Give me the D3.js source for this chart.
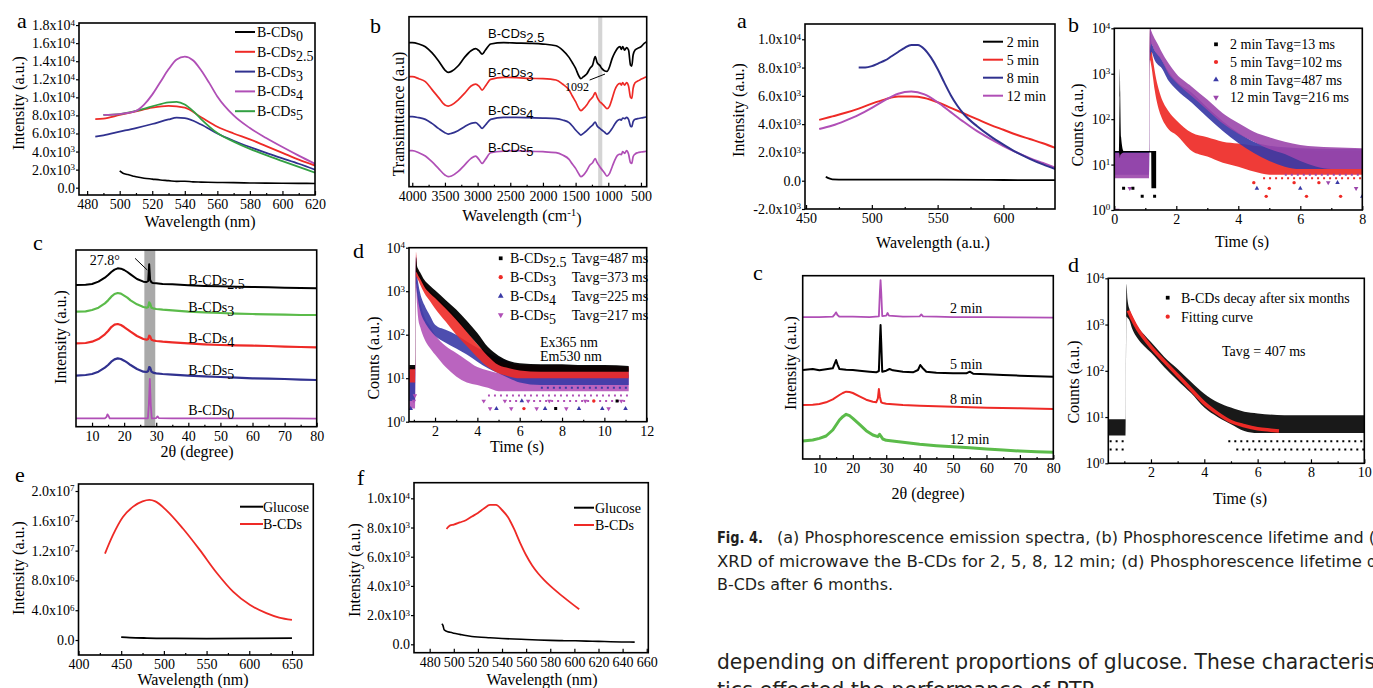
<!DOCTYPE html>
<html>
<head>
<meta charset="utf-8">
<style>
  body { margin: 0; background: #fff; }
  svg { display: block; font-family: "Liberation Serif", "Times New Roman", serif; }
  .tick text { font-family: "Liberation Serif", serif; font-size: 14px; fill: #000; }
  .tick line { stroke: #000; stroke-width: 1.2px; }
  .frame { fill: none; stroke: #000; stroke-width: 1.6px; }
  .title { font-size: 16px; text-anchor: middle; }
  .tag { font-size: 22px; }
  .lab { font-size: 14px; }
  .sans { font-family: "Liberation Sans", Arial, sans-serif; font-size: 13px; }
  .cap { font-family: "Liberation Sans Narrow", "DejaVu Sans Condensed", "Liberation Sans", sans-serif; font-stretch: condensed; fill: #231f20; }
</style>
</head>
<body>
<script src="https://cdn.jsdelivr.net/npm/d3@7"></script>
<script>
// ---------- colours ----------
var RED = "#ee2a26", BLUE = "#30318f", PURPLE = "#b04fb6", GREEN = "#33a043", LGREEN = "#5bbb4a";
var DBLUE = "#3a3aa6", DPURPLE = "#9b46ab";

// ---------- left a : phosphorescence spectra ----------
var aWl0 = [500, 502, 505, 508, 510, 515, 520, 525, 530, 535, 540, 545, 550, 560, 570, 580, 590, 600, 610, 620];
var aI0 = [1850, 1600, 1450, 1300, 1200, 1050, 950, 850, 780, 700, 720, 640, 620, 580, 560, 520, 500, 490, 480, 470];
var aWl25 = [485, 490, 500, 510, 520, 530, 540, 550, 560, 570, 580, 590, 600, 610, 620];
var aI25 = [7600, 7650, 8050, 8450, 8850, 9050, 8850, 7800, 6750, 6000, 5350, 4600, 3850, 3100, 2450];
var aWl3 = [485, 490, 500, 510, 520, 530, 535, 540, 550, 560, 570, 580, 590, 600, 610, 620];
var aI3 = [5650, 5800, 6200, 6600, 7050, 7550, 7750, 7700, 7000, 6000, 5200, 4500, 3850, 3250, 2650, 2000];
var aWl4 = [490, 500, 510, 515, 520, 525, 530, 535, 540, 545, 550, 555, 560, 570, 580, 590, 600, 610, 620];
var aI4 = [8050, 8150, 8500, 9200, 10300, 11700, 13100, 14200, 14500, 14100, 13000, 11600, 10100, 8000, 6600, 5500, 4500, 3550, 2650];
var aWl5 = [490, 500, 510, 520, 530, 535, 540, 545, 550, 560, 570, 580, 590, 600, 610, 620];
var aI5 = [8050, 8150, 8500, 9000, 9450, 9500, 9200, 8500, 7600, 6050, 5100, 4300, 3600, 2950, 2300, 1650];
var aXTicks = [480, 500, 520, 540, 560, 580, 600, 620];
var aXMinor = [490, 510, 530, 550, 570, 590, 610];
var aYTicks = [0, 2000, 4000, 6000, 8000, 10000, 12000, 14000, 16000, 18000];

// ---------- left b : FTIR ----------
var bWn = [4050, 4000, 3900, 3800, 3700, 3600, 3500, 3450, 3400, 3300, 3200, 3100, 3030, 2980, 2930, 2880, 2800, 2600, 2400, 2200,
  2000, 1800, 1700, 1600, 1550, 1500, 1450, 1420, 1380, 1330, 1280, 1240, 1200, 1170, 1130, 1100, 1060, 1020, 980, 940,
  900, 860, 820, 800, 780, 750, 720, 690, 660, 640, 620, 590, 550, 500, 450, 412];
var bT25 = [86.4, 86.4, 85.6, 84, 80.4, 75.6, 70, 68.6, 69.2, 72.4, 77.6, 81.6, 82.8, 81.6, 79.6, 82, 85.6, 86.4, 86.2, 86,
  85.6, 84.6, 82, 77.6, 74.4, 71, 66.4, 64.8, 66, 67.6, 71, 73, 78, 74.4, 72.8, 71, 69.6, 69.2, 72, 77,
  80.4, 83, 84, 82.4, 84, 82, 83.4, 82, 73, 72.4, 79, 82, 83, 84, 86, 87];
var bT3 = [66, 66, 64.8, 63, 58.4, 53.6, 49, 48.4, 49, 52, 56, 60.4, 61.6, 60.4, 58, 60.4, 64.4, 65.6, 65.4, 65,
  64.8, 64, 61.6, 58, 54.4, 51, 47, 45.6, 46.8, 49, 52, 53.6, 56.4, 53.6, 51, 50, 48.4, 46.8, 48.4, 53,
  58, 61, 62, 61, 62.4, 61, 62.4, 60.4, 53.6, 53, 59, 62.4, 63.4, 64.4, 65.4, 66];
var bT4 = [42, 42, 41.4, 40.4, 38, 35, 32.4, 31.6, 32, 33.6, 36, 38, 38.4, 37, 35, 37, 40.4, 41.6, 41.6, 41.4,
  41.2, 40.8, 40, 38.4, 36.4, 34, 32, 31, 32, 33.6, 35.6, 37, 38.8, 36.4, 35, 34, 32.8, 31.6, 32.8, 35,
  37.6, 39.6, 40.4, 40, 41.2, 40.8, 41.6, 40.4, 36.4, 36, 39, 40.4, 40.8, 41.2, 41.6, 42];
var bT5 = [21.6, 21.6, 20.4, 18.4, 15, 11, 7, 6, 6.4, 9, 13, 17, 18.4, 16.4, 14, 16.4, 20.4, 21.4, 21.6, 21.2,
  21, 20.4, 19, 16.4, 13.6, 11, 7.6, 6, 7, 9.6, 13, 14.4, 16.8, 14.4, 12, 10.4, 8.4, 6.4, 8, 12,
  16, 18.8, 19.6, 19.2, 21, 20, 21.6, 19.6, 14.4, 14, 18, 19.6, 20.4, 20.8, 21, 21.4];
var bXTicks = [4000, 3500, 3000, 2500, 2000, 1500, 1000, 500];
var bXMinor = [3750, 3250, 2750, 2250, 1750, 1250, 750];
var bBand = [1155, 1092];

// ---------- left c : XRD ----------
var cX = [5, 8, 10, 12, 14, 15, 16, 17, 18, 19, 20, 21, 22, 24, 26, 27, 27.5, 27.8, 28.1, 28.5, 29, 30, 32, 35, 40, 45, 50, 55, 60, 65, 70, 75, 80];
var cI25 = [85, 85.2, 85.6, 87, 89.4, 91, 92.8, 94.2, 95, 94.8, 94, 92.8, 91.4, 88.6, 87, 86.8, 87.4, 97.4, 88, 86.6, 86.2, 86, 85.6, 85.4, 84.8, 84.4, 84.2, 84, 83.8, 83.6, 83.4, 83.2, 83];
var cI3 = [69, 69.2, 70, 71.4, 74, 75.8, 78, 79.6, 80.2, 79.8, 78.6, 77.4, 75.8, 73.4, 71.8, 71.4, 71.8, 74.6, 73.8, 71.4, 71, 70.6, 70.2, 69.8, 69, 68.6, 68.2, 67.8, 67.6, 67.4, 67.2, 67, 67];
var cI4 = [50, 50.2, 51, 52.6, 55.4, 57.4, 59.8, 61.2, 61.6, 61, 59.8, 58.4, 57, 54.4, 52.6, 52.2, 52.6, 54.6, 54.2, 52.2, 51.8, 51.4, 51, 50.6, 50, 49.4, 49, 48.8, 48.6, 48.4, 48, 47.8, 47.6];
var cI5 = [30.6, 31, 31.6, 33, 35.4, 37, 39, 40.4, 41, 40.6, 39.6, 38.4, 37, 34.6, 33, 32.8, 33.4, 35.8, 35.4, 33, 32.4, 32, 31.6, 31.2, 30.6, 30.2, 29.8, 29.4, 29, 28.8, 28.6, 28.2, 28];
var cX0 = [5, 14, 14.5, 14.8, 15.1, 15.5, 20, 25, 27.4, 27.7, 28, 28.3, 28.6, 30, 30.4, 30.8, 35, 40, 50, 60, 70, 80];
var cI0 = [5, 5, 5.8, 7.4, 6.6, 5, 5, 5, 5, 13, 28.6, 13, 5, 5.2, 6.2, 5.2, 5, 5, 5, 5, 5, 4.8];
var cBand = [26.3, 29.7];
var xrdTicks = [10, 20, 30, 40, 50, 60, 70, 80];
var xrdMinor = [15, 25, 35, 45, 55, 65, 75];

// ---------- left d : decay (upper / lower edge of each dot cloud) ----------
var dT = [0.78, 1.07, 1.1, 1.15, 1.2, 1.3, 1.5, 1.75, 2, 2.5, 3, 3.5, 4, 4.5, 5, 5.5, 6, 7, 8, 9, 10, 11.15];
var dHi25 = [20, 20, 6000, 3800, 3300, 2700, 1800, 1350, 1050, 630, 380, 210, 110, 52, 33, 25, 22, 21, 21, 20, 20, 19];
var dLo25 = [16, 16, 2800, 2600, 2300, 1900, 1250, 900, 700, 400, 220, 115, 60, 32, 20, 17, 15, 14, 14, 14, 14, 14];
var dHi3 = [18, 18, 8000, 3500, 3000, 2400, 1500, 1050, 800, 450, 250, 120, 60, 35, 25, 22, 20, 20, 20, 19, 19, 18];
var dLo3 = [8, 8, 2200, 2000, 1800, 1400, 900, 600, 400, 200, 100, 55, 30, 18, 13, 11, 10, 10, 10, 10, 10, 10];
var dHi4 = [16, 16, 6000, 2500, 1600, 900, 480, 280, 170, 130, 100, 70, 50, 38, 30, 24, 19, 18, 17, 17, 17, 17];
var dLo4 = [3, 3, 1500, 900, 600, 350, 200, 130, 95, 65, 48, 35, 24, 17, 13, 10, 8, 7, 7, 7, 7, 7];
var dHi5 = [14, 14, 7000, 2000, 1000, 550, 260, 160, 100, 55, 38, 26, 18, 15, 13, 12, 12, 12, 12, 12, 12, 12];
var dLo5 = [2, 2, 1200, 500, 250, 150, 80, 50, 35, 18, 11, 8, 7, 6, 5, 5, 5, 5, 5, 5, 5, 5];
var dStray5 = [[4.3, 3], [4.6, 2], [5.3, 3], [5.6, 2], [6.4, 3], [6.8, 2], [7.4, 3], [8.2, 2], [9.1, 3], [10.2, 2], [10.8, 3], [1.0, 3], [1.05, 4]];
var dStray4 = [[4.9, 2], [7.2, 2], [8.8, 2], [9.9, 2], [11.0, 2], [0.85, 2], [6.1, 3]];
var dStray3 = [[6.2, 2], [9.5, 3]];
var dStray25 = [[7.7, 2], [10.6, 3]];
var dXTicks = [2, 4, 6, 8, 10, 12];
var dXMinor = [1, 3, 5, 7, 9, 11];
var logTicks = [1, 10, 100, 1000, 10000];

// ---------- left e / f : glucose vs B-CDs ----------
var eWlG = [450, 460, 480, 500, 550, 600, 650];
var eIG = [400000, 330000, 260000, 220000, 200000, 210000, 250000];
var eWlB = [431, 440, 452, 464, 475, 483, 490, 503, 522, 542, 562, 581, 601, 620, 635, 650];
var eIB = [11.6e6, 14.0e6, 16.5e6, 17.9e6, 18.6e6, 18.8e6, 18.6e6, 17.4e6, 15.0e6, 12.1e6, 9.0e6, 6.5e6, 4.7e6, 3.6e6, 3.0e6, 2.7e6];
var eXTicks = [400, 450, 500, 550, 600, 650];
var eXMinor = [425, 475, 525, 575, 625];
var eYTicks = [0, 4e6, 8e6, 1.2e7, 1.6e7, 2e7];

var fWlG = [490, 491, 492, 494, 497, 500, 505, 510, 515, 520, 530, 540, 550, 560, 570, 580, 590, 600, 610, 620, 630, 640, 650];
var fIG = [1400, 1300, 1000, 900, 820, 760, 680, 600, 540, 500, 450, 400, 360, 330, 300, 270, 250, 240, 220, 200, 180, 160, 150];
var fWlB = [494, 495, 497, 500, 505, 510, 515, 520, 525, 530, 535, 540, 545, 550, 555, 560, 565, 570, 575, 580, 590, 600, 604];
var fIB = [7900, 8000, 8150, 8200, 8350, 8500, 8750, 9000, 9300, 9550, 9550, 9200, 8700, 7900, 6950, 6100, 5400, 4850, 4400, 4000, 3300, 2650, 2400];
var fXTicks = [480, 500, 520, 540, 560, 580, 600, 620, 640, 660];
var fYTicks = [0, 2000, 4000, 6000, 8000, 10000];

// ---------- right a : spectra vs microwave time ----------
var raWl2 = [465, 467, 470, 480, 500, 550, 600, 640];
var raI2 = [280, 180, 100, 80, 80, 70, 50, 40];
var raWl5 = [460, 470, 480, 490, 500, 510, 520, 530, 540, 550, 560, 570, 580, 590, 600, 610, 620, 630, 640];
var raI5 = [4300, 4550, 4800, 5100, 5450, 5750, 5950, 5950, 5850, 5550, 5150, 4750, 4350, 3950, 3600, 3250, 2950, 2650, 2300];
var raWl8 = [490, 495, 500, 505, 510, 515, 520, 525, 530, 535, 540, 545, 550, 555, 560, 565, 570, 580, 590, 600, 610, 620, 630, 640];
var raI8 = [8000, 8000, 8100, 8300, 8500, 8800, 9100, 9400, 9600, 9600, 9300, 8700, 7900, 6950, 6050, 5300, 4700, 3850, 3150, 2550, 2000, 1550, 1150, 800];
var raWl12 = [460, 470, 480, 490, 500, 510, 520, 530, 540, 550, 560, 570, 580, 590, 600, 610, 620, 630, 640];
var raI12 = [3650, 3900, 4250, 4650, 5150, 5700, 6150, 6300, 6100, 5550, 4850, 4150, 3500, 2950, 2450, 2000, 1600, 1250, 900];
var raXTicks = [450, 500, 550, 600];
var raXMinor = [475, 525, 575, 625];
var raYTicks = [-2000, 0, 2000, 4000, 6000, 8000, 10000];

// ---------- right b : decay vs microwave time ----------
var rbTk = [0, 0.15, 0.17, 0.18, 0.19, 0.22, 0.3, 1.19, 1.2, 1.35];
var rbHi2 = [20, 20, 300, 1300, 400, 40, 20, 20, 20, 20];
var rbLo2 = [18.5, 18.5, 16, 14, 16, 17, 18.5, 18.5, 3, 3];
var rbT = [0, 1.12, 1.15, 1.2, 1.25, 1.3, 1.4, 1.5, 1.75, 2, 2.5, 3, 3.5, 4, 4.5, 5, 5.5, 6, 7, 8];
var rbHi5 = [20, 20, 10000, 3500, 2000, 1200, 550, 320, 150, 95, 50, 40, 32, 29, 26, 24, 22, 21, 20, 20];
var rbLo5 = [14, 14, 2000, 1400, 800, 450, 200, 120, 60, 45, 20, 15, 11, 9, 7, 6, 6, 6, 6, 6];
var rbHi8 = [20, 20, 10000, 4800, 4000, 3300, 2700, 2200, 1100, 680, 380, 180, 90, 50, 32, 26, 24, 23, 22, 22];
var rbLo8 = [6, 6, 2000, 3000, 2500, 2000, 1600, 1400, 700, 450, 230, 110, 55, 30, 18, 12, 9, 8, 8, 8];
var rbHi12 = [18, 18, 10000, 8500, 7000, 6000, 4500, 3300, 1700, 1000, 520, 270, 135, 82, 53, 40, 32, 27, 24, 23];
var rbLo12 = [5, 5, 3000, 4500, 3800, 3200, 2600, 2100, 1000, 640, 320, 160, 80, 48, 32, 22, 17, 12, 8, 8];
var rbStray5 = [[4.9, 2], [5.0, 3], [6.2, 2], [7.3, 2], [4.5, 4], [5.8, 4], [6.6, 4]];
var rbStray8 = [[4.6, 3], [6.0, 3], [8.0, 2], [7.2, 4]];
var rbStray12 = [[7.8, 3], [6.9, 4], [0.1, 1], [0.5, 3]];
var rbStray2 = [[0.9, 2], [1.3, 2], [0.6, 3], [0.3, 3]];
var rbXTicks = [0, 2, 4, 6, 8];
var rbXMinor = [1, 3, 5, 7];

// ---------- right c : XRD vs microwave time ----------
var rcX2 = [5, 10, 14, 14.6, 15, 15.4, 16, 20, 25, 27.8, 28.1, 28.3, 28.5, 28.8, 30, 30.4, 30.8, 35, 40, 40.5, 41, 45, 50, 60, 70, 80];
var rcI2 = [85.2, 85.2, 85.4, 86.8, 88, 86.4, 85.4, 85.4, 85.2, 85.6, 100.4, 107.4, 100.4, 85.8, 86, 87.6, 86, 85.4, 85.6, 86.8, 85.6, 85.4, 85.2, 85.2, 85, 84.8];
var rcX5 = [5, 8, 10, 12, 14, 14.6, 15, 15.4, 16, 18, 20, 22, 25, 27, 27.8, 28.1, 28.3, 28.5, 28.8, 30, 31, 32, 35, 38, 39.5, 40.2, 40.8, 42, 45, 50, 54, 55, 56, 60, 65, 70, 75, 80];
var rcI5 = [53.4, 54, 53.2, 53.8, 54.4, 57.4, 59.4, 56.8, 54, 53.6, 53.4, 53, 52.4, 52, 52.8, 70.4, 80.4, 70, 52.4, 53, 54, 53.2, 52.4, 52, 53.4, 56.4, 54.8, 52.4, 51.8, 51.4, 51.4, 52.4, 51.2, 50.8, 50.4, 50, 49.6, 49.4];
var rcX8 = [5, 8, 10, 12, 14, 16, 17, 18, 19, 20, 22, 24, 26, 27, 27.5, 27.8, 28.1, 28.5, 29, 30, 35, 40, 45, 50, 60, 70, 80];
var rcI8 = [32.4, 32.6, 33, 34, 35.8, 38.4, 39.6, 40.4, 40.2, 39.6, 37.6, 35.6, 34.4, 34, 36.4, 42, 37.4, 34, 33.6, 33.2, 32.4, 32, 31.6, 31.4, 30.8, 30.4, 30];
var rcX12 = [5, 8, 10, 12, 14, 15, 16, 17, 18, 19, 20, 22, 24, 26, 27.5, 28, 28.5, 29, 30, 35, 40, 45, 50, 55, 60, 65, 70, 75, 80];
var rcI12 = [10.8, 11.4, 12.4, 13.8, 17.4, 20.4, 23.4, 25.4, 26.8, 26, 24.4, 20.8, 17, 14.4, 13.4, 14.8, 13.4, 12, 11.2, 10, 8.8, 8, 7.4, 6.8, 6, 5.4, 4.8, 4.4, 4];

// ---------- right d : decay after six months ----------
var rdT = [0.42, 1.05, 1.08, 1.12, 1.2, 1.3, 1.5, 1.75, 2, 2.5, 3, 3.5, 4, 4.5, 5, 5.5, 6, 7, 8, 9, 10];
var rdHi = [9, 9, 7500, 3500, 2100, 1500, 900, 600, 420, 200, 110, 58, 32, 21, 16, 13, 12, 11, 11, 11, 11];
var rdLo = [4, 4, 1500, 1400, 1200, 800, 500, 340, 250, 120, 62, 33, 16, 10, 7, 5, 4.5, 4.5, 4.5, 4.5, 4.5];
var rdFitT = [1.15, 1.3, 1.5, 1.75, 2, 2.5, 3, 3.5, 4, 4.5, 5, 5.5, 6, 6.5, 6.8];
var rdFit = [2000, 1300, 800, 500, 330, 160, 80, 40, 20, 12, 8, 6.5, 5.6, 5.2, 5];
var rdStripes = [[0.45, 1.05, 3], [0.45, 1.05, 2], [4.9, 10, 3], [5.2, 10, 2]];
var rdXTicks = [2, 4, 6, 8, 10];
var rdXMinor = [1, 3, 5, 7, 9];

// ---------- helpers ----------
var svg = d3.select("body").append("svg").attr("width", 1373).attr("height", 688);
var defs = svg.append("defs");
var clipN = 0;

function sci(v) {
  if (v === 0) return ["0.0", null];
  var e = Math.floor(Math.log10(Math.abs(v)) + 1e-9);
  return [(v / Math.pow(10, e)).toFixed(1) + "x10", String(e)];
}

function panel(o) {
  var x0 = o.box[0], y0 = o.box[1], x1 = o.box[2], y1 = o.box[3];
  var x = d3.scaleLinear().domain(o.xd).range([x0, x1]);
  var y = (o.log ? d3.scaleLog() : d3.scaleLinear()).domain(o.yd).range([y1, y0]);
  var id = "clip" + (clipN++);
  defs.append("clipPath").attr("id", id).append("rect")
    .attr("x", x0).attr("y", y0).attr("width", x1 - x0).attr("height", y1 - y0);
  var g = svg.append("g");
  var plot = g.append("g").attr("clip-path", "url(#" + id + ")");

  var ax = g.append("g").attr("transform", "translate(0," + y1 + ")")
    .call(d3.axisBottom(x).tickValues(o.xt).tickSize(-4).tickPadding(4).tickFormat(d3.format("d")));
  ax.select(".domain").remove();
  if (o.xm) {
    var am = g.append("g").attr("transform", "translate(0," + y1 + ")")
      .call(d3.axisBottom(x).tickValues(o.xm).tickSize(-2).tickFormat(""));
    am.select(".domain").remove();
  }
  if (o.yt) {
    var ay = g.append("g").attr("transform", "translate(" + x0 + ",0)")
      .call(d3.axisLeft(y).tickValues(o.yt).tickSize(3).tickPadding(1).tickFormat(""));
    ay.select(".domain").remove();
    ay.selectAll(".tick text").each(function (d) {
      var s = o.log ? ["10", String(Math.round(Math.log10(d)))] : sci(d);
      var t = d3.select(this);
      t.append("tspan").text(s[0]);
      if (s[1] !== null) t.append("tspan").attr("dy", "-0.5em").attr("font-size", "9px").text(s[1]);
    });
  }
  g.append("rect").attr("class", "frame")
    .attr("x", x0).attr("y", y0).attr("width", x1 - x0).attr("height", y1 - y0);

  var xt = g.append("text").attr("class", "title").attr("x", o.xl[1]).attr("y", o.xl[2]).text(o.xl[0]);
  if (o.xl[3]) {
    xt.append("tspan").attr("dy", "-0.5em").attr("font-size", "11px").text(o.xl[3]);
    xt.append("tspan").attr("dy", "0.5em").text(")");
  }
  g.append("text").attr("class", "title")
    .attr("transform", "translate(" + (o.yl[1] + 6) + "," + o.yl[2] + ") rotate(-90)").text(o.yl[0]);
  g.append("text").attr("class", "tag").attr("x", o.tag[1]).attr("y", o.tag[2]).text(o.tag[0]);
  return { g: g, plot: plot, x: x, y: y };
}

function curve(p, xs, ys, color, w, linear) {
  p.plot.append("path").datum(d3.zip(xs, ys))
    .attr("fill", "none").attr("stroke", color).attr("stroke-width", w || 1.8)
    .attr("stroke-linejoin", "round")
    .attr("d", d3.line().x(function (d) { return p.x(d[0]); }).y(function (d) { return p.y(d[1]); })
      .curve(linear ? d3.curveLinear : d3.curveMonotoneX));
}

function band(p, ts, hi, lo, color, op) {
  p.plot.append("path").datum(d3.zip(ts, hi, lo))
    .attr("fill", color).attr("fill-opacity", op || 0.92)
    .attr("d", d3.area().x(function (d) { return p.x(d[0]); })
      .y0(function (d) { return p.y(d[2]); }).y1(function (d) { return p.y(d[1]); })
      .curve(d3.curveMonotoneX));
}

function stray(p, pts, color, sym, rot) {
  p.plot.selectAll(null).data(pts).enter().append("path")
    .attr("d", d3.symbol().type(sym).size(9))
    .attr("fill", color)
    .attr("transform", function (d) { return "translate(" + p.x(d[0]) + "," + p.y(d[1]) + ")" + (rot ? " rotate(180)" : ""); });
}

function stripe(p, s, color) {
  p.plot.append("line").attr("x1", p.x(s[0])).attr("x2", p.x(s[1])).attr("y1", p.y(s[2])).attr("y2", p.y(s[2]))
    .attr("stroke", color).attr("stroke-width", 2).attr("stroke-dasharray", "2,4");
}

function subText(g, x, y, base, sub, cls) {
  var t = g.append("text").attr("x", x).attr("y", y).attr("class", cls || "lab");
  t.append("tspan").text(base);
  if (sub) t.append("tspan").attr("dy", 4).text(sub);
  return t;
}

function lineKey(g, x, y, len, color) {
  g.append("line").attr("x1", x).attr("x2", x + len).attr("y1", y).attr("y2", y)
    .attr("stroke", color).attr("stroke-width", 2);
}

function symKey(g, x, y, color, sym, rot) {
  g.append("path").attr("d", d3.symbol().type(sym).size(14)).attr("fill", color)
    .attr("transform", "translate(" + x + "," + y + ")" + (rot ? " rotate(180)" : ""));
}

// ---------- left a ----------
var pa = panel({ box: [79, 23, 315, 195], xd: [475, 620], yd: [-810, 18230], xt: aXTicks, xm: aXMinor, yt: aYTicks,
  xl: ["Wavelength (nm)", 200, 227], yl: ["Intensity (a.u.)", 18, 103], tag: ["a", 17, 28] });
curve(pa, aWl0, aI0, "#000", 1.6);
curve(pa, aWl3, aI3, BLUE);
curve(pa, aWl25, aI25, RED);
curve(pa, aWl5, aI5, GREEN);
curve(pa, aWl4, aI4, PURPLE);
[["0", "#000"], ["2.5", RED], ["3", BLUE], ["4", PURPLE], ["5", GREEN]].forEach(function (k, i) {
  var yy = 32 + i * 19.8;
  lineKey(pa.g, 235, yy, 20, k[1]);
  subText(pa.g, 257, yy + 5, "B-CDs", k[0]);
});

// ---------- left b ----------
var pb = panel({ box: [409, 16.7, 646.7, 186.7], xd: [4050, 412], yd: [0, 102], xt: bXTicks, xm: bXMinor,
  xl: ["Wavelength (cm", 522, 221, "-1"], yl: ["Transimttance (a.u)", 398, 114], tag: ["b", 370, 33] });
pb.plot.append("rect").attr("x", pb.x(bBand[0])).attr("y", 16.7)
  .attr("width", pb.x(bBand[1]) - pb.x(bBand[0])).attr("height", 170).attr("fill", "#d4d4d4");
curve(pb, bWn, bT25, "#000", 1.7);
curve(pb, bWn, bT3, RED, 1.7);
curve(pb, bWn, bT4, BLUE, 1.7);
curve(pb, bWn, bT5, PURPLE, 1.7);
[["2.5", 89.2], ["3", 65.8], ["4", 43], ["5", 20.8]].forEach(function (k) {
  subText(pb.g, pb.x(2840), pb.y(k[1]), "B-CDs", k[0], "sans");
});
pb.g.append("text").attr("x", pb.x(1663)).attr("y", pb.y(57.4)).attr("font-size", 12).text("1092");
pb.g.append("line").attr("x1", pb.x(1285)).attr("y1", pb.y(64)).attr("x2", pb.x(1050)).attr("y2", pb.y(67.6))
  .attr("stroke", "#000").attr("stroke-width", 1);

// ---------- left c ----------
var pc = panel({ box: [76, 250, 316.7, 426.7], xd: [5, 80], yd: [0, 106], xt: xrdTicks, xm: xrdMinor,
  xl: ["2θ (degree)", 197, 457], yl: ["Intensity (a.u.)", 60, 337], tag: ["c", 33, 250] });
pc.plot.append("rect").attr("x", pc.x(cBand[0])).attr("y", 250)
  .attr("width", pc.x(cBand[1]) - pc.x(cBand[0])).attr("height", 176.7).attr("fill", "#a9a9a9");
curve(pc, cX, cI25, "#000", 2, true);
curve(pc, cX, cI3, LGREEN, 2.2, true);
curve(pc, cX, cI4, RED, 2.2, true);
curve(pc, cX, cI5, BLUE, 2.2, true);
curve(pc, cX0, cI0, PURPLE, 1.8, true);
[["2.5", 85], ["3", 68.8], ["4", 50.2], ["5", 31], ["0", 7]].forEach(function (k) {
  subText(pc.g, pc.x(40), pc.y(k[1]), "B-CDs", k[0]);
});
pc.g.append("text").attr("class", "lab").attr("text-anchor", "middle").attr("x", pc.x(14)).attr("y", pc.y(97)).text("27.8°");
pc.g.append("line").attr("x1", pc.x(23.4)).attr("y1", pc.y(101)).attr("x2", pc.x(27.2)).attr("y2", pc.y(94))
  .attr("stroke", "#000").attr("stroke-width", 1);

// ---------- left d ----------
var pd = panel({ box: [409, 247.7, 646.7, 421.7], xd: [0.77, 12], yd: [1, 10000], log: true, xt: dXTicks, xm: dXMinor, yt: logTicks,
  xl: ["Time (s)", 517, 452], yl: ["Counts (a.u.)", 373, 358], tag: ["d", 353, 258] });
band(pd, dT, dHi5, dLo5, PURPLE, 0.88);
band(pd, dT, dHi4, dLo4, DBLUE, 0.9);
band(pd, dT, dHi3, dLo3, RED, 0.9);
band(pd, dT, dHi25, dLo25, "#000", 0.95);
stripe(pd, [4.5, 11.15, 4], PURPLE);
stripe(pd, [5.5, 11.15, 3], PURPLE);
stripe(pd, [7, 11.15, 6], DBLUE);
stray(pd, dStray25, "#000", d3.symbolSquare);
stray(pd, dStray3, RED, d3.symbolCircle);
stray(pd, dStray4, DBLUE, d3.symbolTriangle);
stray(pd, dStray5, PURPLE, d3.symbolTriangle, true);
[["2.5", "487", "#000", d3.symbolSquare, false], ["3", "373", RED, d3.symbolCircle, false],
 ["4", "225", DBLUE, d3.symbolTriangle, false], ["5", "217", PURPLE, d3.symbolTriangle, true]].forEach(function (k, i) {
  var yy = 258.3 + i * 18.9;
  symKey(pd.g, 500.7, yy, k[2], k[3], k[4]);
  subText(pd.g, 510, yy + 5, "B-CDs", k[0]);
  pd.g.append("text").attr("class", "lab").attr("x", 571.7).attr("y", yy + 5).text("Tavg=" + k[1] + " ms");
});
pd.g.append("text").attr("class", "lab").attr("x", 540).attr("y", 347).text("Ex365 nm");
pd.g.append("text").attr("class", "lab").attr("x", 540).attr("y", 361).text("Em530 nm");

// ---------- left e ----------
var pe = panel({ box: [78.5, 484, 313.3, 655], xd: [400, 675], yd: [-2.01e6, 2.094e7], xt: eXTicks, xm: eXMinor, yt: eYTicks,
  xl: ["Wavelength (nm)", 193, 685], yl: ["Intensity (a.u.)", 18, 568], tag: ["e", 15, 482] });
curve(pe, eWlG, eIG, "#000", 1.8);
curve(pe, eWlB, eIB, RED, 1.8);
lineKey(pe.g, 240, 506.7, 23, "#000");
pe.g.append("text").attr("class", "lab").attr("x", 263).attr("y", 511.7).text("Glucose");
lineKey(pe.g, 240, 524, 23, RED);
pe.g.append("text").attr("class", "lab").attr("x", 263).attr("y", 529).text("B-CDs");

// ---------- left f ----------
var pf = panel({ box: [414, 482.7, 648.3, 652.7], xd: [467, 661.3], yd: [-575, 11070], xt: fXTicks, yt: fYTicks,
  xl: ["Wavelength (nm)", 542, 685], yl: ["Intensity (a.u.)", 354, 570], tag: ["f", 357, 485] });
curve(pf, fWlG, fIG, "#000", 1.6);
curve(pf, fWlB, fIB, RED, 1.8);
lineKey(pf.g, 574, 507.7, 20, "#000");
pf.g.append("text").attr("class", "lab").attr("x", 595).attr("y", 512.7).text("Glucose");
lineKey(pf.g, 574, 525, 20, RED);
pf.g.append("text").attr("class", "lab").attr("x", 595).attr("y", 530).text("B-CDs");

// ---------- right a ----------
var ra = panel({ box: [805, 24, 1055, 209], xd: [449.2, 639.2], yd: [-2000, 11080], xt: raXTicks, xm: raXMinor, yt: raYTicks,
  xl: ["Wavelength (a.u.)", 933, 248], yl: ["Intensity (a.u.)", 738, 110], tag: ["a", 737, 28] });
curve(ra, raWl2, raI2, "#000", 1.8);
curve(ra, raWl5, raI5, RED, 2);
curve(ra, raWl12, raI12, PURPLE, 2);
curve(ra, raWl8, raI8, BLUE, 2);
[["2 min", "#000"], ["5 min", RED], ["8 min", BLUE], ["12 min", PURPLE]].forEach(function (k, i) {
  var yy = 41.7 + i * 18;
  lineKey(ra.g, 983, yy, 20, k[1]);
  ra.g.append("text").attr("class", "lab").attr("x", 1006.7).attr("y", yy + 5).text(k[0]);
});

// ---------- right b ----------
var rb = panel({ box: [1114.3, 28.3, 1362.3, 210], xd: [0, 8], yd: [1, 10000], log: true, xt: rbXTicks, xm: rbXMinor, yt: logTicks,
  xl: ["Time (s)", 1242, 247], yl: ["Counts (a.u.)", 1077, 125], tag: ["b", 1068, 32] });
band(rb, rbT, rbHi5, rbLo5, RED);
band(rb, rbT, rbHi8, rbLo8, DBLUE);
band(rb, rbT, rbHi12, rbLo12, DPURPLE, 0.9);
band(rb, rbTk, rbHi2, rbLo2, "#000", 1);
stripe(rb, [4.8, 8, 5], RED);
stripe(rb, [5.5, 8, 6], DPURPLE);
stray(rb, rbStray5, RED, d3.symbolCircle);
stray(rb, rbStray8, DBLUE, d3.symbolTriangle);
stray(rb, rbStray12, DPURPLE, d3.symbolTriangle, true);
stray(rb, rbStray2, "#000", d3.symbolSquare);
[["2 min Tavg=13 ms", "#000", d3.symbolSquare, false], ["5 min Tavg=102 ms", RED, d3.symbolCircle, false],
 ["8 min Tavg=487 ms", DBLUE, d3.symbolTriangle, false], ["12 min Tavg=216 ms", DPURPLE, d3.symbolTriangle, true]].forEach(function (k, i) {
  var yy = 44.3 + i * 17.7;
  symKey(rb.g, 1216, yy, k[1], k[2], k[3]);
  rb.g.append("text").attr("class", "lab").attr("x", 1230).attr("y", yy + 5).text(k[0]);
});

// ---------- right c ----------
var rc = panel({ box: [802.7, 275.7, 1053.3, 459], xd: [5, 80], yd: [0, 110], xt: xrdTicks, xm: xrdMinor,
  xl: ["2θ (degree)", 928, 499], yl: ["Intensity (a.u.)", 790, 363], tag: ["c", 753, 280] });
curve(rc, rcX2, rcI2, PURPLE, 1.8, true);
curve(rc, rcX5, rcI5, "#000", 2, true);
curve(rc, rcX8, rcI8, RED, 2, true);
curve(rc, rcX12, rcI12, LGREEN, 3, true);
[["2 min", 313], ["5 min", 369], ["8 min", 404], ["12 min", 444]].forEach(function (k) {
  rc.g.append("text").attr("class", "lab").attr("x", 950).attr("y", k[1]).text(k[0]);
});

// ---------- right d ----------
var rd = panel({ box: [1108.3, 278.3, 1364.3, 463.3], xd: [0.4, 10], yd: [1, 10000], log: true, xt: rdXTicks, xm: rdXMinor, yt: logTicks,
  xl: ["Time (s)", 1240, 504], yl: ["Counts (a.u.)", 1073, 382], tag: ["d", 1068, 272] });
band(rd, rdT, rdHi, rdLo, "#000", 0.9);
rdStripes.forEach(function (s) { stripe(rd, s, "#000"); });
curve(rd, rdFitT, rdFit, RED, 3.5);
symKey(rd.g, 1167.7, 297.7, "#000", d3.symbolSquare);
rd.g.append("text").attr("class", "lab").attr("x", 1181).attr("y", 302.7).text("B-CDs decay after six months");
symKey(rd.g, 1167.7, 316.7, RED, d3.symbolCircle);
rd.g.append("text").attr("class", "lab").attr("x", 1181).attr("y", 321.7).text(" Fitting curve");
rd.g.append("text").attr("class", "lab").attr("x", 1222).attr("y", 356).text("Tavg = 407 ms");

// ---------- caption and body text ----------
var cap = svg.append("g").attr("class", "cap");
cap.append("text").attr("x", 717).attr("y", 543).attr("font-size", 16).attr("font-weight", "bold")
  .attr("textLength", 46).attr("lengthAdjust", "spacingAndGlyphs").text("Fig. 4.");
cap.append("text").attr("x", 777).attr("y", 543).attr("font-size", 16)
  .attr("textLength", 598).attr("lengthAdjust", "spacingAndGlyphs")
  .text("(a) Phosphorescence emission spectra, (b) Phosphorescence lifetime and (");
cap.append("text").attr("x", 717).attr("y", 567).attr("font-size", 16)
  .attr("textLength", 645).attr("lengthAdjust", "spacingAndGlyphs")
  .text("XRD of microwave the B-CDs for 2, 5, 8, 12 min; (d) Phosphorescence lifetime");
cap.append("text").attr("x", 1367).attr("y", 567).attr("font-size", 16).text("of");
cap.append("text").attr("x", 717).attr("y", 590).attr("font-size", 16)
  .attr("textLength", 176).attr("lengthAdjust", "spacingAndGlyphs").text("B-CDs after 6 months.");
cap.append("text").attr("x", 717).attr("y", 669).attr("font-size", 21)
  .attr("textLength", 658).attr("lengthAdjust", "spacingAndGlyphs")
  .text("depending on different proportions of glucose. These characteris");
cap.append("text").attr("x", 717).attr("y", 697).attr("font-size", 21)
  .attr("textLength", 380).attr("lengthAdjust", "spacingAndGlyphs")
  .text("tics effected the performance of RTP.");
</script>
</body>
</html>
